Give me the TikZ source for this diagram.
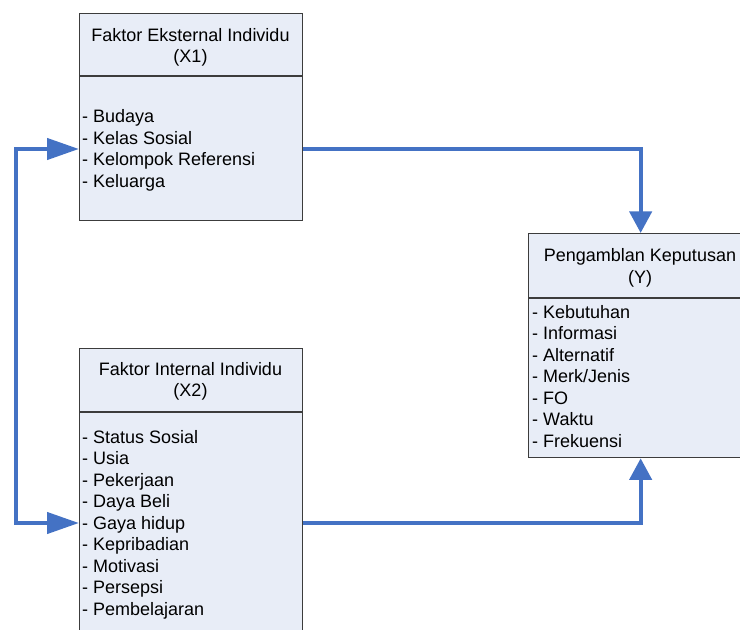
\documentclass[tikz,border=0pt]{standalone}
\usepackage{fontspec}
\setmainfont{Liberation Sans}
\usetikzlibrary{arrows.meta}
\definecolor{linkblue}{RGB}{68,114,196}
\definecolor{boxfill}{RGB}{232,237,247}
\definecolor{boxline}{RGB}{60,60,60}
\tikzset{
  panel/.style={draw=boxline, fill=boxfill, line width=1.3pt, inner sep=0pt, anchor=north west},
  divider/.style={draw=boxline, line width=1.3pt},
  head/.style={anchor=north, align=center, inner sep=0pt, font=\fontsize{18}{21.5}\selectfont},
  items/.style={anchor=north west, align=left, inner sep=0pt, font=\fontsize{18}{21.5}\selectfont},
  link/.style={draw=linkblue, line width=4.3pt},
  vtip/.style={-{Triangle[length=21.6pt,width=22pt]}},
  htips/.style={{Triangle[length=32pt,width=21pt]}-{Triangle[length=32pt,width=21pt]}}
}
\begin{document}
\begin{tikzpicture}[x=1pt,y=-1pt]
\useasboundingbox (0,0) rectangle (740,630);
\clip (0,0) rectangle (740,630);

% boxes
\node[panel, minimum width=223pt, minimum height=207pt] (x1) at (79,13) {};
\node[panel, minimum width=224pt, minimum height=224pt] (y) at (528,233) {};
\node[panel, minimum width=223pt, minimum height=300pt] (x2) at (79,348) {};

% dividers
\draw[divider] ([yshift=-63pt]x1.north west) -- ([yshift=-63pt]x1.north east);
\draw[divider] ([yshift=-65pt]y.north west) -- ([yshift=-65pt]y.north east);
\draw[divider] ([yshift=-64pt]x2.north west) -- ([yshift=-64pt]x2.north east);

% texts
\node[head] (x1h) at (190.5,28) {Faktor Eksternal Individu\\(X1)};
\node[items] (x1l) at (82,109.6) {- Budaya\\- Kelas Sosial\\- Kelompok Referensi\\- Keluarga};

\node[head] (yh) at (640,248.6) {Pengamblan Keputusan\\(Y)};
\node[items] (yl) at (532,305.2) {- Kebutuhan\\- Informasi\\- Alternatif\\- Merk/Jenis\\- FO\\- Waktu\\- Frekuensi};

\node[head] (x2h) at (190.5,362) {Faktor Internal Individu\\(X2)};
\node[items] (x2l) at (82,430.2) {- Status Sosial\\- Usia\\- Pekerjaan\\- Daya Beli\\- Gaya hidup\\- Kepribadian\\- Motivasi\\- Persepsi\\- Pembelajaran};

% connectors
\coordinate (corner) at (16,523);
\draw[link, vtip] ([yshift=-136pt]x1.north east) -| (y.north);
\draw[link, vtip] ([yshift=-175pt]x2.north east) -| (y.south);
\draw[link, htips] ([yshift=-136pt]x1.north west) -| (corner) -- ([yshift=-175pt]x2.north west);
\end{tikzpicture}
\end{document}
